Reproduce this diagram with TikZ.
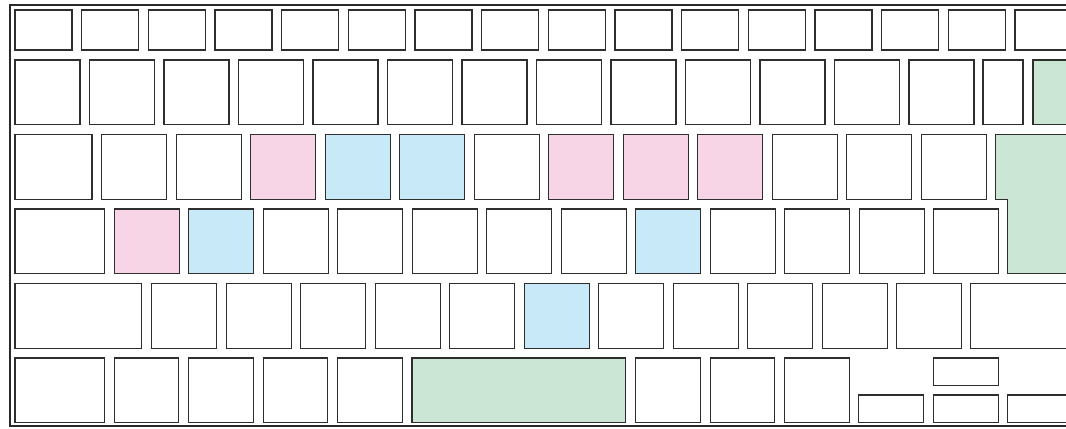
\documentclass[tikz,border=0pt]{standalone}
\usepackage{xcolor}
\usepackage{tikz}
\definecolor{keyline}{HTML}{2E2E2E}
\definecolor{keypink}{HTML}{F8D5E6}
\definecolor{keyblue}{HTML}{C7E9F8}
\definecolor{keygreen}{HTML}{CCE6D6}
\begin{document}
\begin{tikzpicture}[
  x=0.75pt, y=-0.75pt,
  key/.style={draw=keyline, line width=0.9pt, fill=white},
  frame/.style={draw=keyline!90!black, line width=1.6pt},
]
\useasboundingbox (0,0) rectangle (1066,428);
\clip (0,0) rectangle (1066,428);
\draw[frame] (9.8,5.3) rectangle (1100,425.7);
% function row
\foreach \i in {0,...,15}
  \draw[key] ({15+66.67*\i},10) rectangle ++(57,40);
% number row
\foreach \i in {0,...,12}
  \draw[key] ({15+74.5*\i},60) rectangle ++(65,64.5);
\draw[key] (983,60) rectangle (1023,124.5);
\draw[key, fill=keygreen] (1033,60) rectangle (1090,124.5);
% tab row
\draw[key] (15,134.5) rectangle (92,199.5);
\foreach \i/\c in {0/white,1/white,2/keypink,3/keyblue,4/keyblue,5/white,
                   6/keypink,7/keypink,8/keypink,9/white,10/white,11/white}
  \draw[key, fill=\c] ({101.7+74.5*\i},134.5) rectangle ++(65,65);
\draw[key, fill=keygreen] (995.7,134.5) -- (1090,134.5) -- (1090,273.5)
  -- (1007.7,273.5) -- (1007.7,199.5) -- (995.7,199.5) -- cycle;
% caps row
\draw[key] (15,209) rectangle (104.3,273.5);
\foreach \i/\c in {0/keypink,1/keyblue,2/white,3/white,4/white,5/white,
                   6/white,7/keyblue,8/white,9/white,10/white,11/white}
  \draw[key, fill=\c] ({114.3+74.5*\i},209) rectangle ++(65,64.5);
% shift row
\draw[key] (15,283.5) rectangle (141.7,348.5);
\foreach \i/\c in {0/white,1/white,2/white,3/white,4/white,5/keyblue,
                   6/white,7/white,8/white,9/white,10/white}
  \draw[key, fill=\c] ({151.7+74.5*\i},283.5) rectangle ++(65,65);
\draw[key] (970.7,283.5) rectangle (1090,348.5);
% bottom row
\draw[key] (15,358) rectangle (104.3,422.5);
\foreach \i in {0,...,3}
  \draw[key] ({114.3+74.5*\i},358) rectangle ++(64.5,64.5);
\draw[key, fill=keygreen] (412,358) rectangle (625.7,422.5);
\foreach \i in {0,...,2}
  \draw[key] ({635.7+74.5*\i},358) rectangle ++(64.5,64.5);
\draw[key] (858.7,395) rectangle (923.3,422.5);
\draw[key] (933.3,358) rectangle (998.3,385.3);
\draw[key] (933.3,395) rectangle (998.3,422.5);
\draw[key] (1007.7,395) rectangle (1090,422.5);
\end{tikzpicture}
\end{document}
